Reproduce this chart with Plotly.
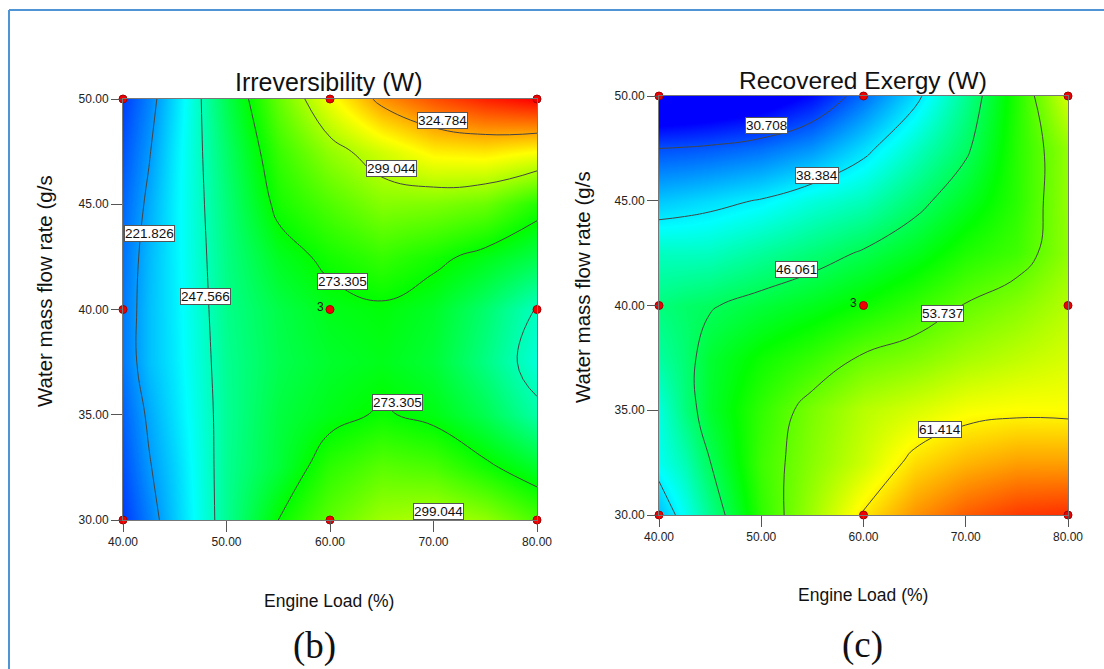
import plotly.graph_objects as go

engine_load = [40, 42.5, 45, 50, 55, 60, 65, 70, 75, 80]
water_flow = [30, 32.5, 35, 37.5, 40, 42.5, 45, 47.5, 50]

irreversibility = [
    [205.6, 216.9, 229, 253, 273.3, 287, 297, 299.8, 295, 284],
    [209, 220.8, 230.5, 253, 265, 279.5, 286.5, 284, 275.5, 267],
    [212, 223.6, 233, 252.5, 264, 270, 274.5, 270.5, 262, 250],
    [215.7, 227.2, 234.5, 253, 262, 267, 269.5, 265.5, 255, 243],
    [215.7, 227.2, 235, 254, 263, 269.5, 271.8, 267.5, 258, 246],
    [214.9, 226.3, 235.5, 255, 268.5, 276, 281, 276, 270, 263],
    [212.8, 224, 235.5, 256.5, 276, 285, 293, 292, 289, 278],
    [209.7, 220.9, 234.5, 258.8, 281, 295, 304.7, 313.6, 315, 311.2],
    [206, 217.3, 232, 262.4, 288, 309.5, 328, 338, 345, 350],
]
recovered_exergy = [
    [36, 39.7, 43.8, 51.5, 56.5, 61.8, 65.5, 68, 69.5, 70],
    [39.7, 42.2, 46, 52.2, 55.5, 58.6, 62.3, 64, 65, 65],
    [40.5, 44.5, 47.7, 51.6, 54.9, 57.6, 59, 60.4, 60.8, 60.7],
    [43, 44.9, 47.5, 50, 51.8, 54.1, 55.2, 56.8, 57.9, 59],
    [44.5, 45.3, 45.8, 47.2, 48.4, 50, 51.8, 53.9, 55.4, 57.5],
    [41.7, 41.6, 41.7, 43.2, 44.7, 46.4, 48.3, 50.8, 52.3, 55.8],
    [36.5, 37, 37.5, 38.6, 40.5, 42, 45, 48.1, 51.3, 56],
    [30.7, 30.9, 31.2, 32.2, 34, 37.5, 41.5, 45.5, 51.2, 56],
    [22, 22.5, 23, 24.5, 27.5, 32.3, 37.5, 43.7, 51, 59],
]
design_x = [40, 40, 40, 60, 60, 60, 80, 80, 80]
design_y = [30, 40, 50, 30, 40, 50, 30, 40, 50]
labels_b = [("324.784", 70.9, 48.97), ("299.044", 65.9, 46.7), ("221.826", 42.6, 43.6),
            ("247.566", 48.0, 40.6), ("273.305", 61.2, 41.35), ("273.305", 66.5, 35.6),
            ("299.044", 70.5, 30.4)]
labels_c = [("30.708", 50.5, 48.58), ("38.384", 55.5, 46.2), ("46.061", 53.4, 41.74),
            ("53.737", 67.7, 39.63), ("61.414", 67.5, 34.06)]
levels_b = (221.826, 324.784, 25.7395)
levels_c = (30.708, 61.414, 7.6765)

W, H = 1104, 669
rainbow = [[0, "#0000ff"], [0.27, "#00ffff"], [0.5, "#00ff00"], [0.75, "#ffff00"], [1, "#ff0000"]]
FONT = "Liberation Sans, Arial, sans-serif"
fig = go.Figure()


def panel(n, z, zr, lv, xpx, ypx, title, title_xy, title_size, xt_xy, yt_xy, labels, tag, tag_xy):
    sx = "" if n == 1 else str(n)
    fig.add_trace(go.Contour(
        x=engine_load, y=water_flow, z=z, xaxis="x" + sx, yaxis="y" + sx,
        colorscale=rainbow, zmin=zr[0], zmax=zr[1], showscale=False,
        autocontour=False,
        contours=dict(start=lv[0], end=lv[1], size=lv[2], coloring="heatmap", showlines=True),
        line=dict(color="#444444", width=1, smoothing=1.3),
    ))
    fig.add_trace(go.Scatter(
        x=design_x, y=design_y, xaxis="x" + sx, yaxis="y" + sx, mode="markers",
        marker=dict(color="#f00000", size=8, line=dict(color="#a00000", width=1)),
        cliponaxis=False, showlegend=False,
    ))
    common = dict(tickformat=".2f", ticks="outside", ticklen=11, tickcolor="#555", showgrid=False,
                  zeroline=False, showline=True, linecolor="#777", linewidth=1, mirror=True,
                  tickfont=dict(family=FONT, size=12, color="#222"))
    ax = dict(domain=[xpx[0] / W, xpx[1] / W], range=[40, 80], dtick=10, tick0=40, anchor="y" + sx, **common)
    ay = dict(domain=[1 - ypx[1] / H, 1 - ypx[0] / H], range=[30, 50], dtick=5, tick0=30, anchor="x" + sx, **common)
    fig.update_layout({"xaxis" + sx: ax, "yaxis" + sx: ay})
    for text, lx, ly in labels:
        fig.add_annotation(x=lx, y=ly, xref="x" + sx, yref="y" + sx, text=text, showarrow=False,
                           bgcolor="white", bordercolor="#555", borderwidth=1, borderpad=0,
                           font=dict(family=FONT, size=13.5, color="#111"))
    fig.add_annotation(x=60, y=40, xref="x" + sx, yref="y" + sx, text="3", showarrow=False,
                       xshift=-10, yshift=3, font=dict(family=FONT, size=12, color="#222"))
    for text, (tx, ty), size, fam, ang in [
        (title, title_xy, title_size, FONT, 0),
        ("Engine Load (%)", xt_xy, 17.5, FONT, 0),
        ("Water mass flow rate (g/s", yt_xy, 20.5, FONT, -90),
        (tag, tag_xy, 37, "Liberation Serif, Times New Roman, serif", 0),
    ]:
        fig.add_annotation(x=tx / W, y=1 - ty / H, xref="paper", yref="paper", text=text,
                           showarrow=False, textangle=ang, xanchor="center", yanchor="middle",
                           font=dict(family=fam, size=size, color="#111"))


panel(1, irreversibility, (196, 350), levels_b, (123, 537), (99, 520), "Irreversibility (W)",
      (329, 82), 25, (329, 601), (45, 291), labels_b, "(b)", (314, 646))
panel(2, recovered_exergy, (27, 72), levels_c, (659, 1068), (96, 515), "Recovered Exergy (W)",
      (863, 80), 24.5, (863, 595), (582, 287), labels_c, "(c)", (862, 645))

frame = dict(type="line", xref="paper", yref="paper", line=dict(color="#4f94d4", width=2))
fig.add_shape(x0=9 / W, x1=9 / W, y0=0, y1=1 - 10 / H, **frame)
fig.add_shape(x0=9 / W, x1=1, y0=1 - 10 / H, y1=1 - 10 / H, **frame)

fig.update_layout(width=W, height=H, margin=dict(l=0, r=0, t=0, b=0, autoexpand=False),
                  paper_bgcolor="white", plot_bgcolor="white", showlegend=False)
fig.write_html("out.html", config={"displayModeBar": False},
               post_script="document.body.style.margin='0';document.body.style.overflow='hidden';")
